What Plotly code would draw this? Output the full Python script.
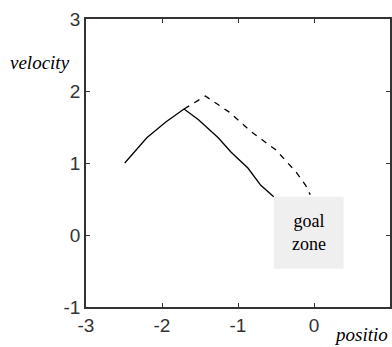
import plotly.graph_objects as go

# solid trajectory
solid_x = [-2.49, -2.30, -2.20, -1.95, -1.71, -1.52, -1.26, -1.09, -0.87, -0.70, -0.53]
solid_y = [1.00, 1.22, 1.35, 1.57, 1.75, 1.60, 1.35, 1.15, 0.93, 0.69, 0.53]
# dashed trajectory
dash_x = [-1.71, -1.43, -1.12, -0.82, -0.50, -0.24, -0.11, -0.05]
dash_y = [1.75, 1.93, 1.71, 1.43, 1.18, 0.88, 0.69, 0.56]

goal_x = [-0.53, 0.39]
goal_y = [-0.47, 0.53]

x_ticks = [-3, -2, -1, 0, 1]
y_ticks = [-1, 0, 1, 2, 3]

fig = go.Figure()
fig.add_shape(type="rect", x0=goal_x[0], x1=goal_x[1], y0=goal_y[0], y1=goal_y[1],
              fillcolor="#efefef", line=dict(width=0), layer="below")
fig.add_trace(go.Scatter(x=solid_x, y=solid_y, mode="lines",
                         line=dict(color="black", width=1.3)))
fig.add_trace(go.Scatter(x=dash_x, y=dash_y, mode="lines",
                         line=dict(color="black", width=1.3, dash="6px,6px")))
fig.add_annotation(x=-0.07, y=0.04,
                   text="goal<br>zone", showarrow=False, xanchor="center", yanchor="middle",
                   font=dict(family="Liberation Serif", size=18, color="black"))
fig.add_annotation(xref="paper", yref="paper", x=(40-86)/306, y=1 - (62-19)/288,
                   xanchor="center", yanchor="middle",
                   text="<i>velocity</i>", showarrow=False,
                   font=dict(family="Liberation Serif", size=19, color="black"))
fig.add_annotation(xref="paper", yref="paper", x=(334-86)/306, y=-(334-307)/288,
                   xanchor="left", yanchor="middle", text="<i>positio</i>", showarrow=False,
                   font=dict(family="Liberation Serif", size=19, color="black"))

axis_common = dict(showgrid=False, zeroline=False, ticks="inside", ticklen=4,
                   tickcolor="#333", tickwidth=1, showline=True, linecolor="#333",
                   linewidth=1.5, mirror="ticks",
                   tickfont=dict(family="Liberation Sans", size=19, color="#333"))
fig.update_xaxes(range=[-3, 1], tickvals=x_ticks, ticktext=[str(v) for v in x_ticks], **axis_common)
fig.update_yaxes(range=[-1, 3], tickvals=y_ticks, ticktext=[str(v) for v in y_ticks], **axis_common)
fig.update_layout(width=392, height=347, margin=dict(l=86, r=0, t=19, b=40),
                  plot_bgcolor="white", paper_bgcolor="white", showlegend=False)
fig.write_html("out.html")
